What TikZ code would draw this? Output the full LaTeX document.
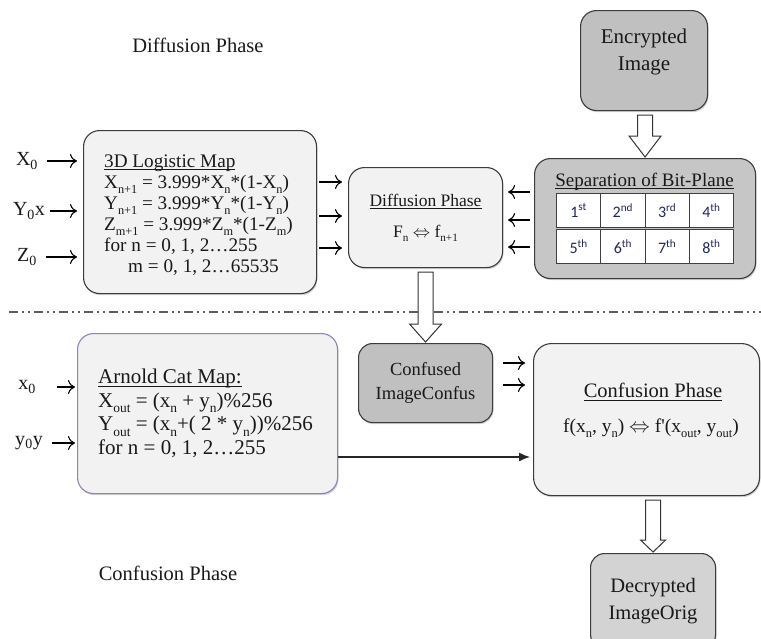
\documentclass[tikz,border=0pt]{standalone}
\usepackage{fontspec}
\usepackage{graphicx}
\setmainfont{Liberation Serif}
\newfontfamily\cellfont{Carlito}
\usetikzlibrary{arrows.meta,calc,shadows}

\definecolor{boxline}{HTML}{3C3C3C}
\definecolor{lightfill}{HTML}{F2F2F2}
\definecolor{darkfill}{HTML}{C0C0C0}
\definecolor{sepfill}{HTML}{C6C6C6}
\definecolor{palefill}{HTML}{D3D3D3}
\definecolor{catline}{HTML}{9282BA}
\definecolor{cellink}{HTML}{22285A}
\definecolor{ruleline}{HTML}{5C5C5C}

\newcommand\fs[2]{\fontsize{#1}{#2}\selectfont}
% small lowered index, as in X_n
\newcommand\lo[1]{\raisebox{-0.24em}{\scalebox{0.64}{#1}}}
% underline measured on the word itself
\newcommand\ul[1]{\setbox0\hbox{#1}\rlap{\raisebox{-2.6pt}{\rule{\wd0}{0.9pt}}}\box0}
% block arrow pointing down: source node, target node, anchor giving x, head length, head half width
\newcommand\hollowdown[5]{%
  \path[hollowarrow] let \p1=(#1.south), \p2=(#2.north), \p3=(#3) in
    (\x3-7.5pt,\y1-4pt) -- (\x3-7.5pt,\y2+#4+1pt) -- (\x3-#5,\y2+#4+1pt) -- (\x3,\y2+1pt)
    -- (\x3+#5,\y2+#4+1pt) -- (\x3+7.5pt,\y2+#4+1pt) -- (\x3+7.5pt,\y1-4pt) -- cycle;}

\begin{document}
\begin{tikzpicture}[x=1pt,y=-1pt,
  panel/.style={draw=boxline,line width=1.1pt,rounded corners=#1,anchor=north west,
    inner sep=0pt,align=center,text=black!90,
    drop shadow={shadow xshift=1pt,shadow yshift=-1.6pt,opacity=0.35}},
  panel/.default=16pt,
  heading/.style={font=\fs{20.5}{24},text=black!90,inner sep=0pt},
  inlabel/.style={font=\fs{20}{24},text=black!90,inner sep=0pt},
  cell/.style={draw=black!75,line width=1pt,fill=white,anchor=north west,
    minimum width=44.25pt,minimum height=34pt,inner sep=0pt,
    font=\cellfont\fs{16}{18},text=cellink},
  feed/.style={draw=black,line width=1.1pt,-{To[length=7pt,width=14pt]}},
  longfeed/.style={draw=black!85,line width=1.3pt,-{Latex[length=11pt,width=9pt]}},
  hollowarrow/.style={draw=black!80,fill=white,line width=1pt,line join=miter},
  divider/.style={draw=ruleline,line width=1.8pt,
    dash pattern=on 9pt off 4pt on 1.5pt off 4.5pt on 1.5pt off 4.5pt},
  boxtext/.style={anchor=west,align=left,inner sep=0pt,text=black!90}
]
\useasboundingbox (0,0) rectangle (761,638);
\clip (0,0) rectangle (761,638);

% phase captions
\node[heading] (toplabel) at (198,45) {Diffusion Phase};
\node[heading] (botlabel) at (168,573) {Confusion Phase};

% encrypted input image
\node[panel,fill=darkfill,minimum width=127pt,minimum height=100pt] (enc) at (580,10) {};
\node[font=\fs{21}{27},align=center,inner sep=0pt,text=black!90] (enctext)
  at ($(enc.center)+(0,-9)$) {Encrypted\\Image};

% bit-plane separation
\node[panel,fill=sepfill,minimum width=221pt,minimum height=120pt] (sep) at (534,158) {};
\node[font=\fs{19}{22},inner sep=0pt,text=black!90] (septitle) at (644.5,182)
  {\ul{Separation of Bit-Plane}};
\foreach \c/\a/\b in {0/1\textsuperscript{st}/5\textsuperscript{th},
                      1/2\textsuperscript{nd}/6\textsuperscript{th},
                      2/3\textsuperscript{rd}/7\textsuperscript{th},
                      3/4\textsuperscript{th}/8\textsuperscript{th}}{
  \node[cell] (bitA\c) at ({556+44.25*\c},193) {\a};
  \node[cell] (bitB\c) at ({556+44.25*\c},229) {\b};
}

% diffusion stage
\node[panel,fill=lightfill,minimum width=154pt,minimum height=100pt,font=\fs{17.5}{21}] (diff)
  at (348,167) {\ul{Diffusion Phase}\\[10pt]F\lo{n} $\Leftrightarrow$ f\lo{n+1}};

% 3D logistic map
\node[panel,fill=lightfill,minimum width=233pt,minimum height=163pt] (logi) at (83,130) {};
\node[boxtext,font=\fs{19.2}{21}] (logitext) at ($(logi.west)+(21,3)$)
  {\ul{3D Logistic Map}\\
   X\lo{n+1} = 3.999*X\lo{n}*(1-X\lo{n})\\
   Y\lo{n+1} = 3.999*Y\lo{n}*(1-Y\lo{n})\\
   Z\lo{m+1} = 3.999*Z\lo{m}*(1-Z\lo{m})\\
   for n = 0, 1, 2…255\\
   \hspace*{24pt}m = 0, 1, 2…65535};

% Arnold cat map
\node[panel,draw=catline,fill=lightfill,minimum width=260pt,minimum height=160pt] (cat) at (77,333) {};
\node[boxtext,font=\fs{21}{23.5}] (cattext) at ($(cat.west)+(21,0)$)
  {\ul{Arnold Cat Map:}\\
   X\lo{out} = (x\lo{n} + y\lo{n})\%256\\
   Y\lo{out} = (x\lo{n}+( 2 * y\lo{n}))\%256\\
   for n = 0, 1, 2…255};

% confused image
\node[panel=14pt,fill=darkfill,minimum width=134pt,minimum height=79pt,font=\fs{18.5}{24}] (confd)
  at (358,343) {Confused\\ImageConfus};

% confusion stage
\node[panel=18pt,fill=lightfill,minimum width=226pt,minimum height=152pt] (conf) at (533,343) {};
\node[font=\fs{20.5}{24},inner sep=0pt,text=black!90] (conftitle) at (653,392)
  {\ul{Confusion Phase}};
\node[font=\fs{19.5}{22},inner sep=0pt,text=black!90] (confrule) at (651,428)
  {f(x\lo{n}, y\lo{n}) $\Leftrightarrow$ f\textquotesingle(x\lo{out}, y\lo{out})};

% decrypted output image
\node[panel=14pt,fill=palefill,minimum width=125pt,minimum height=95pt,font=\fs{20.5}{27}] (dec)
  at (590,553) {Decrypted\\ImageOrig};

% seed inputs
\node[inlabel] (inX) at (27,161) {X\textsubscript{0}};
\node[inlabel] (inY) at (29,211) {Y\textsubscript{0}x};
\node[inlabel] (inZ) at (27,257) {Z\textsubscript{0}};
\node[inlabel] (inx) at (27,387) {x\textsubscript{0}};
\node[inlabel] (iny) at (29,443) {y\textsubscript{0}y};

\draw[feed,shorten <=9pt,shorten >=6pt] (inX.east) -- (logi.west |- inX.east);
\draw[feed,shorten <=5pt,shorten >=6pt] (inY.east) -- (logi.west |- inY.east);
\draw[feed,shorten <=9pt,shorten >=6pt] (inZ.east) -- (logi.west |- inZ.east);
\draw[feed,shorten <=21pt,shorten >=2pt] (inx.east) -- (cat.west |- inx.east);
\draw[feed,shorten <=9pt,shorten >=2pt] (iny.east) -- (cat.west |- iny.east);

% connector rows
\coordinate (ra) at (0,182);
\coordinate (rb) at (0,216);
\coordinate (rc) at (0,248);
\coordinate (sa) at (0,192);
\coordinate (sb) at (0,220);
\coordinate (sc) at (0,247);
\coordinate (ca) at (0,363);
\coordinate (cb) at (0,385);
\coordinate (la) at (0,457);

\foreach \r in {ra,rb,rc}
  \draw[feed,shorten <=2pt,shorten >=6pt] (logi.east |- \r) -- (diff.west |- \r);
\foreach \r in {sa,sb,sc}
  \draw[feed,shorten <=4pt,shorten >=5pt] (sep.west |- \r) -- (diff.east |- \r);
\foreach \r in {ca,cb}
  \draw[feed,shorten <=10pt,shorten >=8pt] (confd.east |- \r) -- (conf.west |- \r);
\draw[longfeed,shorten >=3pt] (cat.east |- la) -- (conf.west |- la);

% divider between the two phases
\coordinate (dl) at (9,312);
\coordinate (dr) at (761,312);
\draw[divider] (dl) -- (dr);

% block arrows
\hollowdown{enc}{sep}{sep.north}{21pt}{16pt}
\hollowdown{diff}{confd}{diff.south}{18pt}{16pt}
\hollowdown{conf}{dec}{dec.north}{12pt}{12.5pt}
\end{tikzpicture}
\end{document}
